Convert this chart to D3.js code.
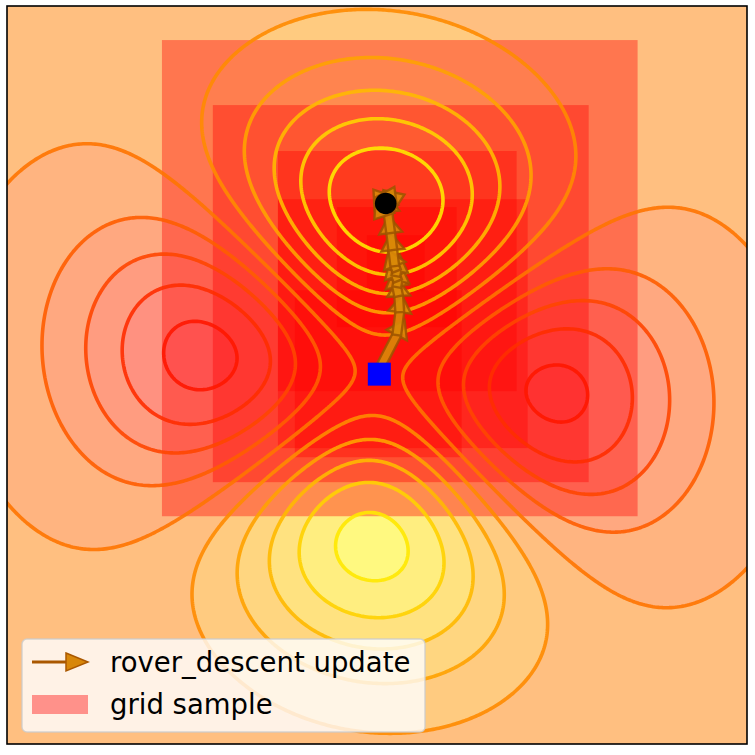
<!DOCTYPE html>
<html>
<head>
<meta charset="utf-8">
<script src="https://cdn.jsdelivr.net/npm/d3@7"></script>
<style>
body { margin: 0; background: #fff; }
svg { display: block; }
</style>
</head>
<body>
<svg width="755" height="755"></svg>
<script>

// surface: (a*y'^2 - b*x'^2) * exp(-(x'^2 + y'^2)), one amplitude per lobe
let lobeNames = ['top', 'bottom', 'left', 'right'];
let lobeAmp = [1.0, 0.9, 0.8, 0.78];
let shear = [0.039, 0.109];   // x' = x - s0*y , y' = y + s1*x

let levels = [-0.334, -0.27, -0.206, -0.142, -0.078, -0.014, 0.05, 0.114, 0.178, 0.242, 0.306, 0.37];

// grid sample windows (data units)
let sampleX0 = [-1.219, -0.933, -0.567, -0.567, -0.472, -0.236, -0.067];
let sampleX1 = [1.455, 1.180, 0.775, 0.837, 0.466, 0.438, 0.258];
let sampleY0 = [-0.826, -0.628, -0.099, -0.430, -0.483, 0.273, 0.483];
let sampleY1 = [1.942, 1.564, 1.297, 1.017, 0.488, 0.971, 0.808];

// rover_descent iterates
let roverX = [0.011, 0.101, 0.118, 0.112, 0.101, 0.107, 0.096, 0.101, 0.090, 0.079, 0.067, 0.051, 0.045, 0.028, 0.056, 0.034, 0.045];
let roverY = [0.047, 0.227, 0.360, 0.453, 0.506, 0.541, 0.570, 0.599, 0.628, 0.721, 0.820, 0.942, 0.971, 0.994, 1.006, 0.977, 1.000];

let start = [0.003, 0.0];
let best = [0.039, 0.992];

let legendLabels = ['rover_descent update', 'grid sample'];

let svg = d3.select('svg');
let box = { left: 7, right: 747, top: 6, bottom: 744 };

let x = d3.scaleLinear().domain([-2.09, 2.07]).range([box.left, box.right]);
let y = d3.scaleLinear().domain([-2.15, 2.14]).range([box.bottom, box.top]);

function field(px, py) {
    let u = px - shear[0] * py;
    let v = py + shear[1] * px;
    let a = v > 0 ? lobeAmp[0] : lobeAmp[1];
    let b = u < 0 ? lobeAmp[2] : lobeAmp[3];
    return (a * v * v - b * u * u) * Math.exp(-(u * u + v * v));
}

let autumn = t => d3.rgb(255, 255 * t, 0);
let norm = d3.scaleLinear().domain([levels[0], levels[levels.length - 1]]).range([0, 1]);

// sample the surface on a pixel grid a bit larger than the axes
let step = 2, gx0 = -1, gy0 = -2, nx = 380, ny = 380;
let values = new Float64Array(nx * ny);
for (let j = 0; j < ny; j++) {
    for (let i = 0; i < nx; i++) {
        values[j * nx + i] = field(x.invert(gx0 + i * step), y.invert(gy0 + j * step));
    }
}

let path = d3.geoPath(d3.geoTransform({
    point: function(cx, cy) {
        this.stream.point(gx0 + (cx - 0.5) * step, gy0 + (cy - 0.5) * step);
    }
}));

svg.append('clipPath').attr('id', 'plot')
    .append('rect')
    .attr('x', box.left).attr('y', box.top)
    .attr('width', box.right - box.left).attr('height', box.bottom - box.top);

let g = svg.append('g').attr('clip-path', 'url(#plot)');

// filled bands, alpha 0.5 over white
let bandColor = k => d3.interpolateRgb('#fff', autumn(norm((levels[k] + levels[k + 1]) / 2)))(0.5);

g.append('rect')
    .attr('x', box.left).attr('y', box.top)
    .attr('width', box.right - box.left).attr('height', box.bottom - box.top)
    .attr('fill', bandColor(0));

let bands = d3.contours().size([nx, ny]).thresholds(levels.slice(1, -1))(values);
g.selectAll('path.band')
    .data(bands)
    .enter().append('path')
    .attr('class', 'band')
    .attr('d', path)
    .attr('fill', (d, k) => bandColor(k + 1));

// grid samples
g.selectAll('rect.sample')
    .data(sampleX0)
    .enter().append('rect')
    .attr('class', 'sample')
    .attr('x', (d, k) => x(sampleX0[k]))
    .attr('y', (d, k) => y(sampleY1[k]))
    .attr('width', (d, k) => x(sampleX1[k]) - x(sampleX0[k]))
    .attr('height', (d, k) => y(sampleY0[k]) - y(sampleY1[k]))
    .attr('fill', '#ff0000')
    .attr('fill-opacity', 0.38);

// contour lines
g.selectAll('path.iso')
    .data(bands)
    .enter().append('path')
    .attr('class', 'iso')
    .attr('d', path)
    .attr('fill', 'none')
    .attr('stroke', d => autumn(norm(d.value)))
    .attr('stroke-opacity', 0.9)
    .attr('stroke-width', 3.6)
    .attr('stroke-linejoin', 'round');

// rover updates as arrows, head added past each step
let sw = 4.4, hw = 11.5, hl = 17;
function arrow(x0, y0, x1, y1) {
    let dx = x1 - x0, dy = y1 - y0;
    let L = Math.hypot(dx, dy);
    let ux = dx / L, uy = dy / L, nx_ = -uy, ny_ = ux;
    let pts = [
        [x0 + nx_ * sw, y0 + ny_ * sw],
        [x1 + nx_ * sw, y1 + ny_ * sw],
        [x1 + nx_ * hw, y1 + ny_ * hw],
        [x1 + ux * hl, y1 + uy * hl],
        [x1 - nx_ * hw, y1 - ny_ * hw],
        [x1 - nx_ * sw, y1 - ny_ * sw],
        [x0 - nx_ * sw, y0 - ny_ * sw]
    ];
    return 'M' + pts.map(p => p[0].toFixed(2) + ',' + p[1].toFixed(2)).join('L') + 'Z';
}

g.selectAll('path.step')
    .data(d3.range(roverX.length - 1))
    .enter().append('path')
    .attr('class', 'step')
    .attr('d', k => arrow(x(roverX[k]), y(roverY[k]), x(roverX[k + 1]), y(roverY[k + 1])))
    .attr('fill', '#d98a08')
    .attr('fill-opacity', 0.9)
    .attr('stroke', '#9c5400')
    .attr('stroke-opacity', 0.85)
    .attr('stroke-width', 2.4)
    .attr('stroke-linejoin', 'miter');

g.append('rect')
    .attr('x', x(start[0]) - 11.5).attr('y', y(start[1]) - 11.5)
    .attr('width', 23).attr('height', 23)
    .attr('fill', '#0000ff');

g.append('circle')
    .attr('cx', x(best[0])).attr('cy', y(best[1]))
    .attr('r', 10.8)
    .attr('fill', '#000');

// frame
svg.append('rect')
    .attr('x', box.left).attr('y', box.top)
    .attr('width', box.right - box.left).attr('height', box.bottom - box.top)
    .attr('fill', 'none')
    .attr('stroke', '#000')
    .attr('stroke-width', 1.6);

// legend
let legend = svg.append('g');
legend.append('rect')
    .attr('x', 22).attr('y', 639)
    .attr('width', 403).attr('height', 93)
    .attr('rx', 5)
    .attr('fill', '#fff').attr('fill-opacity', 0.8)
    .attr('stroke', '#cccccc').attr('stroke-opacity', 0.8)
    .attr('stroke-width', 1.5);

legend.append('line')
    .attr('x1', 32).attr('x2', 68).attr('y1', 662).attr('y2', 662)
    .attr('stroke', '#aa5800').attr('stroke-width', 3);
legend.append('path')
    .attr('d', 'M66,653L88,662L66,671Z')
    .attr('fill', '#d8870a').attr('stroke', '#aa5800').attr('stroke-width', 1.5);

legend.append('rect')
    .attr('x', 32).attr('y', 695).attr('width', 56).attr('height', 19)
    .attr('fill', '#ff0000').attr('fill-opacity', 0.4);

legend.selectAll('text')
    .data(legendLabels)
    .enter().append('text')
    .attr('x', 110)
    .attr('y', (d, k) => 671.5 + k * 42)
    .attr('font-family', 'DejaVu Sans')
    .attr('font-size', '27.5px')
    .attr('fill', '#000')
    .text(d => d);

</script>
</body>
</html>
